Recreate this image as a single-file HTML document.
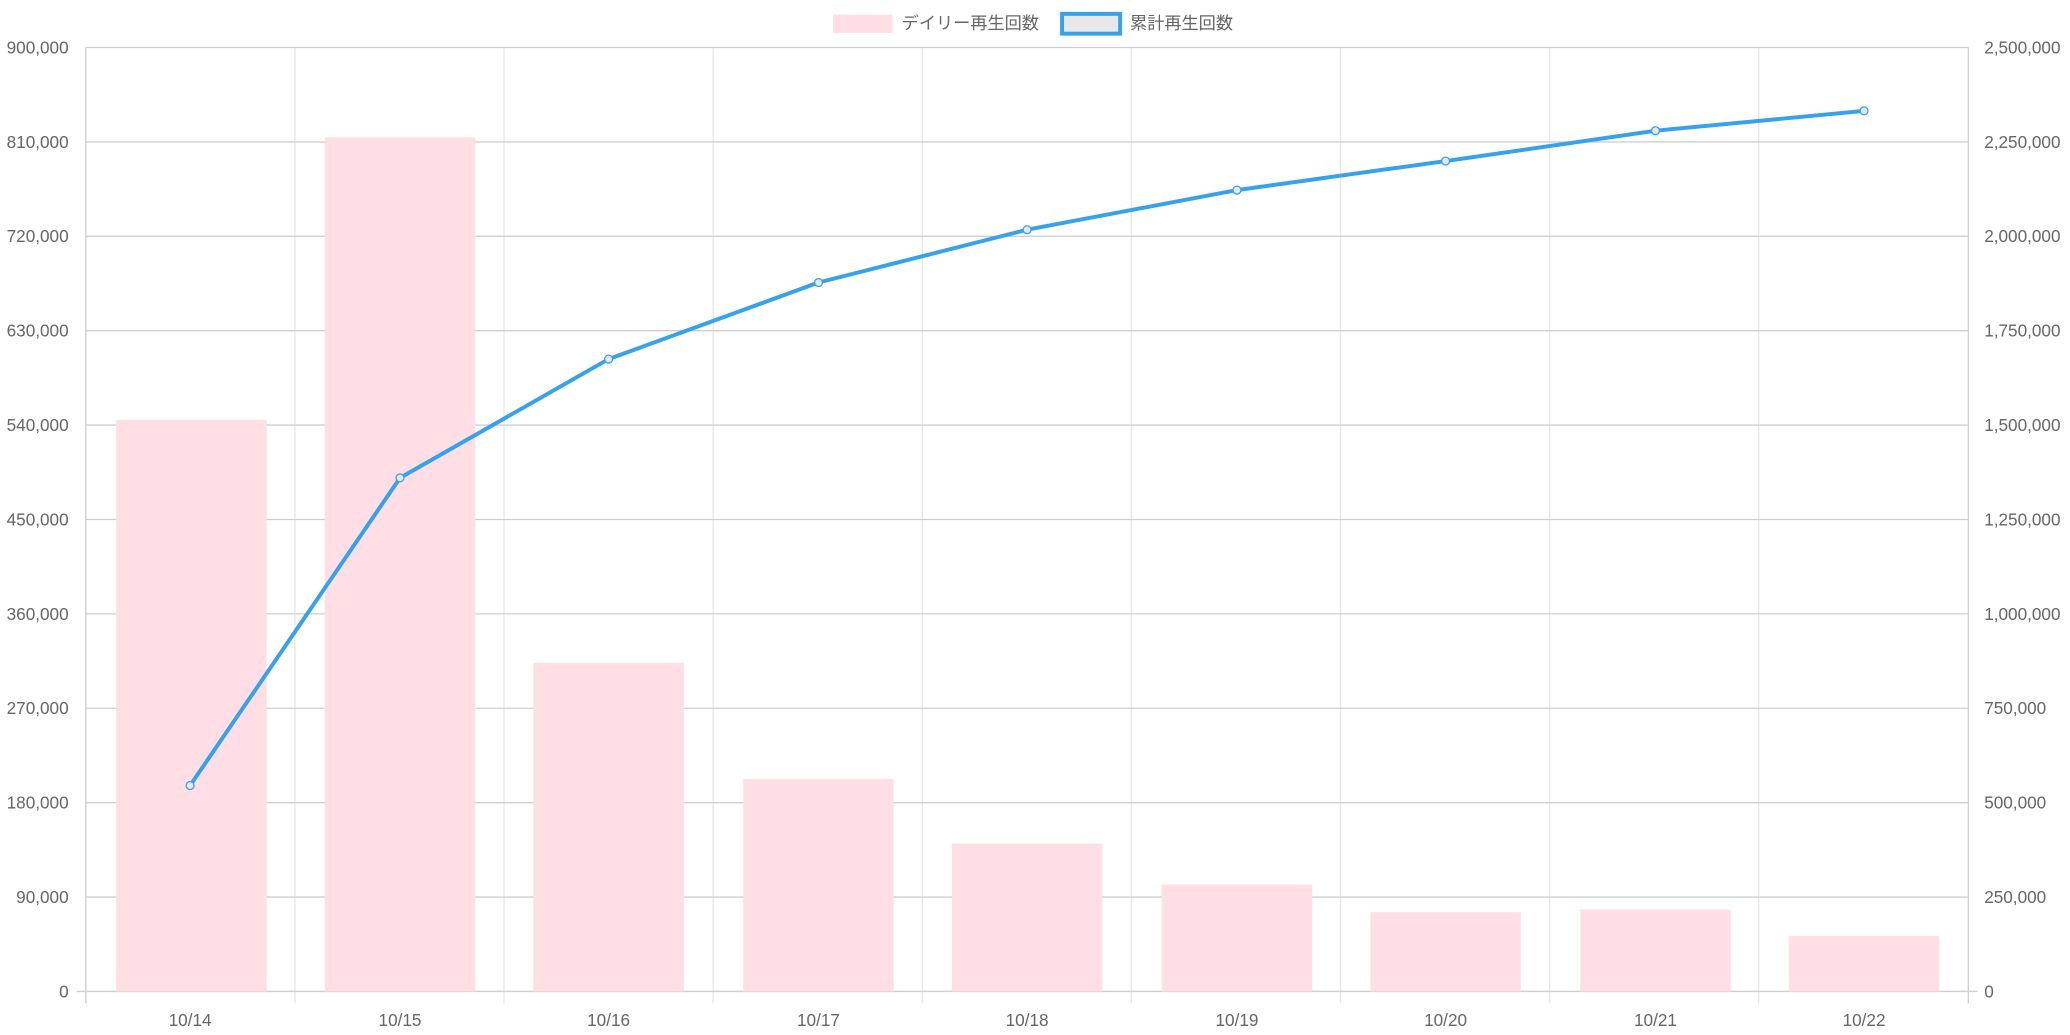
<!DOCTYPE html>
<html><head><meta charset="utf-8"><style>html,body{margin:0;padding:0;background:#fff}svg{display:block}</style></head><body>
<svg width="2070" height="1035" viewBox="0 0 1568 784" preserveAspectRatio="none" xmlns="http://www.w3.org/2000/svg" font-family="Liberation Sans, Noto Sans CJK JP, sans-serif" font-size="13" fill="#666">
<g stroke="#e6e6e6" stroke-width="1">
<line x1="223.4" y1="36" x2="223.4" y2="760"/><line x1="381.8" y1="36" x2="381.8" y2="760"/><line x1="540.2" y1="36" x2="540.2" y2="760"/><line x1="698.6" y1="36" x2="698.6" y2="760"/><line x1="857" y1="36" x2="857" y2="760"/><line x1="1015.4" y1="36" x2="1015.4" y2="760"/><line x1="1173.8" y1="36" x2="1173.8" y2="760"/><line x1="1332.2" y1="36" x2="1332.2" y2="760"/>
</g>
<g stroke="#cfcfcf" stroke-width="1">
<line x1="65" y1="36" x2="1491" y2="36"/><line x1="65" y1="107.5" x2="1491" y2="107.5"/><line x1="65" y1="179" x2="1491" y2="179"/><line x1="65" y1="250.5" x2="1491" y2="250.5"/><line x1="65" y1="322" x2="1491" y2="322"/><line x1="65" y1="393.5" x2="1491" y2="393.5"/><line x1="65" y1="465" x2="1491" y2="465"/><line x1="65" y1="536.5" x2="1491" y2="536.5"/><line x1="65" y1="608" x2="1491" y2="608"/><line x1="65" y1="679.5" x2="1491" y2="679.5"/>
<line x1="65" y1="36" x2="65" y2="760"/><line x1="1491" y1="36" x2="1491" y2="760"/>
<line x1="58" y1="751" x2="1498" y2="751"/>
</g>
<g fill="#ffdfe5">
<rect x="88" y="318" width="114" height="433"/>
<rect x="246" y="104" width="114" height="647"/>
<rect x="404" y="502" width="114" height="249"/>
<rect x="563" y="590" width="114" height="161"/>
<rect x="721" y="639" width="114" height="112"/>
<rect x="880" y="670" width="114" height="81"/>
<rect x="1038" y="691" width="114" height="60"/>
<rect x="1197" y="689" width="114" height="62"/>
<rect x="1355" y="709" width="114" height="42"/>
</g>
<polyline fill="none" stroke="#36a2eb" stroke-width="3" stroke-linejoin="round" points="144,595 303,362 461,272 620,214 778,174 937,144 1095,122 1254,99 1412,84"/>
<g fill="#e8e8e8" stroke="#36a2eb" stroke-width="1">
<circle cx="144" cy="595" r="3"/><circle cx="303" cy="362" r="3"/><circle cx="461" cy="272" r="3"/><circle cx="620" cy="214" r="3"/><circle cx="778" cy="174" r="3"/><circle cx="937" cy="144" r="3"/><circle cx="1095" cy="122" r="3"/><circle cx="1254" cy="99" r="3"/><circle cx="1412" cy="84" r="3"/>
</g>
<g text-anchor="end">
<text x="52" y="40.5">900,000</text><text x="52" y="112">810,000</text><text x="52" y="183.5">720,000</text><text x="52" y="255">630,000</text><text x="52" y="326.5">540,000</text><text x="52" y="398">450,000</text><text x="52" y="469.5">360,000</text><text x="52" y="541">270,000</text><text x="52" y="612.5">180,000</text><text x="52" y="684">90,000</text><text x="52" y="755.5">0</text>
</g>
<g>
<text x="1503" y="40.5">2,500,000</text><text x="1503" y="112">2,250,000</text><text x="1503" y="183.5">2,000,000</text><text x="1503" y="255">1,750,000</text><text x="1503" y="326.5">1,500,000</text><text x="1503" y="398">1,250,000</text><text x="1503" y="469.5">1,000,000</text><text x="1503" y="541">750,000</text><text x="1503" y="612.5">500,000</text><text x="1503" y="684">250,000</text><text x="1503" y="755.5">0</text>
</g>
<g text-anchor="middle">
<text x="144" y="777">10/14</text><text x="303" y="777">10/15</text><text x="461" y="777">10/16</text><text x="620" y="777">10/17</text><text x="778" y="777">10/18</text><text x="937" y="777">10/19</text><text x="1095" y="777">10/20</text><text x="1254" y="777">10/21</text><text x="1412" y="777">10/22</text>
</g>
<rect x="631" y="11" width="45" height="14" fill="#ffdfe5"/>
<text x="683" y="22">デイリー再生回数</text>
<rect x="804.5" y="10.5" width="44" height="15" fill="#e8e8e8" stroke="#36a2eb" stroke-width="3"/>
<text x="856" y="22">累計再生回数</text>
</svg>
</body></html>
